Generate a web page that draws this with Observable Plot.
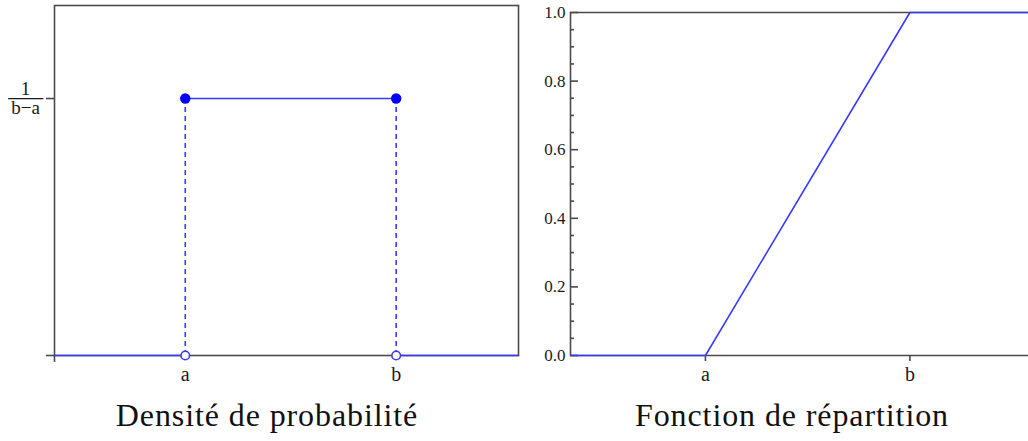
<!DOCTYPE html>
<html>
<head>
<meta charset="utf-8">
<script src="https://cdn.jsdelivr.net/npm/d3@7"></script>
<script src="https://cdn.jsdelivr.net/npm/@observablehq/plot@0.6"></script>
<style>
  html, body { margin: 0; padding: 0; background: #fff; }
  #wrap { position: relative; width: 1028px; height: 441px; overflow: hidden; font-family: "Liberation Serif", serif; }
  .panel { position: absolute; top: 0; }
  .title { position: absolute; top: 399px; font-size: 32px; letter-spacing: 0.9px; line-height: 1; color: #111; text-align: center; white-space: nowrap; transform: translateX(-50%); }
</style>
</head>
<body>
<div id="wrap">
  <div id="left" class="panel" style="left:0px"></div>
  <div id="right" class="panel" style="left:520px"></div>
  <div class="title" style="left:267px">Densité de probabilité</div>
  <div class="title" style="left:792px">Fonction de répartition</div>
</div>
<script>
// ---- data ----
const breakValues = [0, 1];            // a, b
const breakLabels = ["a", "b"];
const pdfHeight = 1;                   // 1/(b-a)
const pdfHeightLabel = "1\nb\u2212a";
const pdfXDomain = [-0.62, 1.58];
const pdfYDomain = [0, 1.362];
const pdfBaseX = [-0.62, 0, 1, 1.58];
const pdfBaseY = [0, 0, 0, 0];
const pdfBaseGroup = ["left", "left", "right", "right"];
const cdfXDomain = [-0.66, 1.58];
const cdfX = [-0.66, 0, 1, 1.58];
const cdfY = [0, 0, 1, 1];
const cdfMajorTicks = [0, 0.2, 0.4, 0.6, 0.8, 1.0];
const cdfMinorTicks = [0.05, 0.1, 0.15, 0.25, 0.3, 0.35, 0.45, 0.5, 0.55, 0.65, 0.7, 0.75, 0.85, 0.9, 0.95];

const BLUE_LINE = "#3a3aff";
const BLUE_DOT = "#0000ff";
const AXIS = "#4a4a4a";
const TEXT = "#1a1a1a";
const FONT = "Liberation Serif";

const baseRows = pdfBaseX.map((x, i) => ({x, y: pdfBaseY[i], g: pdfBaseGroup[i]}));
const topRows = breakValues.map(x => ({x, y: pdfHeight}));
const botRows = breakValues.map(x => ({x, y: 0}));
const breakFmt = d => breakLabels[breakValues.indexOf(d)];

const left = Plot.plot({
  width: 530, height: 385,
  marginLeft: 54, marginRight: 12, marginTop: 5, marginBottom: 30,
  style: {fontFamily: FONT, fontSize: "20px", color: TEXT, background: "transparent"},
  x: {domain: pdfXDomain},
  y: {domain: pdfYDomain},
  marks: [
    Plot.frame({stroke: AXIS, strokeWidth: 1.6}),
    Plot.axisX({ticks: [pdfXDomain[0]], label: null, tickSize: 7, tickFormat: () => "", stroke: AXIS, strokeWidth: 1.6}),
    Plot.axisX({ticks: breakValues, label: null, tickSize: 0, tickPadding: 11, tickFormat: breakFmt, fontSize: 20, fill: TEXT}),
    Plot.axisY({ticks: [0], label: null, tickSize: 8, tickFormat: () => "", stroke: AXIS, strokeWidth: 1.6}),
    Plot.axisY({ticks: [pdfHeight], label: null, tickSize: 8, tickPadding: 21, textAnchor: "middle", lineHeight: 1.0, tickFormat: () => pdfHeightLabel, fontSize: 19, fill: TEXT, stroke: AXIS, strokeWidth: 1.6}),
    Plot.ruleX(breakValues, {y1: 0, y2: pdfHeight, stroke: BLUE_LINE, strokeWidth: 1.6, strokeDasharray: "5,4"}),
    Plot.line(baseRows, {x: "x", y: "y", z: "g", stroke: BLUE_LINE, strokeWidth: 1.6}),
    Plot.line(topRows, {x: "x", y: "y", stroke: BLUE_LINE, strokeWidth: 1.6}),
    Plot.dot(topRows, {x: "x", y: "y", r: 5.2, fill: BLUE_DOT, stroke: "none"}),
    Plot.dot(botRows, {x: "x", y: "y", r: 4.3, fill: "#fff", stroke: BLUE_LINE, strokeWidth: 1.6})
  ]
});
document.getElementById("left").appendChild(left);

// fraction bar between numerator and denominator
{
  const texts = Array.from(left.querySelectorAll("text")).filter(t => t.querySelectorAll("tspan").length === 2);
  texts.forEach(t => {
    const bb = t.getBBox();
    const tsp = t.querySelectorAll("tspan");
    const b1 = tsp[0].getBBox(), b2 = tsp[1].getBBox();
    const yMid = (b1.y + b1.height * 0.85 + b2.y + b2.height * 0.2) / 2;
    const line = document.createElementNS("http://www.w3.org/2000/svg", "line");
    line.setAttribute("x1", bb.x - 3);
    line.setAttribute("x2", bb.x + bb.width + 3);
    line.setAttribute("y1", yMid);
    line.setAttribute("y2", yMid);
    line.setAttribute("stroke", TEXT);
    line.setAttribute("stroke-width", 1.2);
    if (t.getAttribute("transform")) line.setAttribute("transform", t.getAttribute("transform"));
    t.parentNode.insertBefore(line, t.nextSibling);
  });
}

const right = Plot.plot({
  width: 508, height: 385,
  marginLeft: 50, marginRight: 0, marginTop: 12, marginBottom: 30,
  style: {fontFamily: FONT, fontSize: "17px", color: TEXT, background: "transparent"},
  x: {domain: cdfXDomain},
  y: {domain: [0, 1]},
  marks: [
    Plot.ruleY([0, 1], {stroke: AXIS, strokeWidth: 1.6}),
    Plot.ruleX([cdfXDomain[0]], {y1: 0, y2: 1, stroke: AXIS, strokeWidth: 1.6}),
    Plot.axisY({ticks: cdfMajorTicks, label: null, tickSize: 0, tickPadding: 5, tickFormat: d3.format(".1f"), fontSize: 17, fill: TEXT}),
    Plot.axisY({ticks: cdfMajorTicks, label: null, tickSize: -8, tickPadding: 8, tickFormat: () => "", stroke: AXIS, strokeWidth: 1.6}),
    Plot.axisY({ticks: cdfMinorTicks, label: null, tickSize: -4, tickPadding: 4, tickFormat: () => "", stroke: AXIS, strokeWidth: 1.6}),
    Plot.axisX({ticks: breakValues, label: null, tickSize: 6, tickPadding: 5, tickFormat: breakFmt, fontSize: 20, fill: TEXT, stroke: AXIS, strokeWidth: 1.6}),
    Plot.line(cdfX.map((x, i) => ({x, y: cdfY[i]})), {x: "x", y: "y", stroke: BLUE_LINE, strokeWidth: 1.6})
  ]
});
document.getElementById("right").appendChild(right);
</script>
</body>
</html>
